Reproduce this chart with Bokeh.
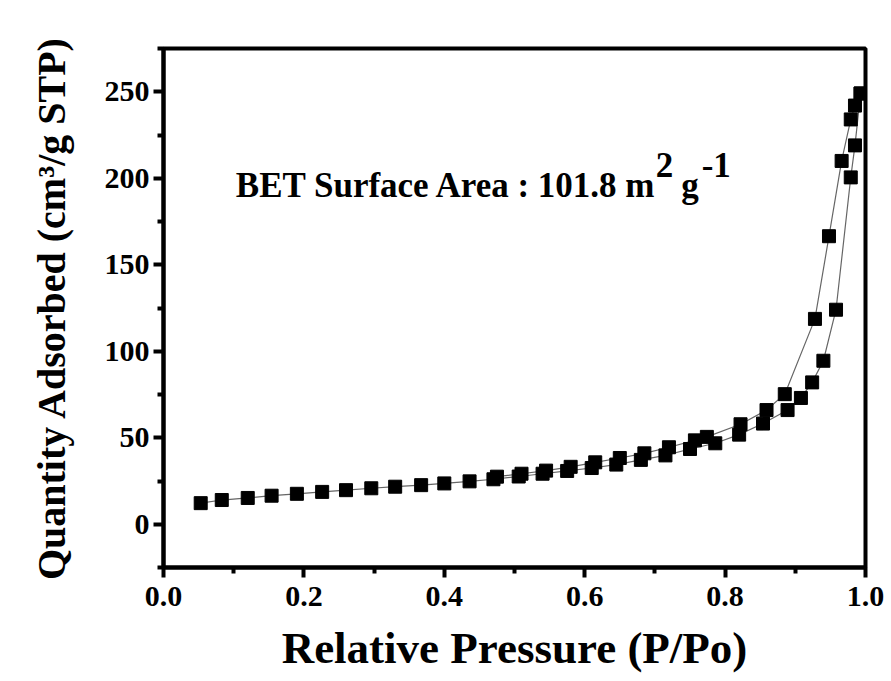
from bokeh.plotting import figure
from bokeh.models import Label, FixedTicker, Range1d
from bokeh.embed import file_html
from bokeh.resources import INLINE

# Adsorption branch (Relative pressure P/Po, quantity adsorbed cm3/g STP)
ads_x = [0.053, 0.083, 0.12, 0.154, 0.19, 0.226, 0.26, 0.296, 0.33, 0.367, 0.40, 0.436,
         0.47, 0.506, 0.54, 0.575, 0.61, 0.645, 0.68, 0.715, 0.75, 0.786, 0.82, 0.854,
         0.889, 0.908, 0.924, 0.940, 0.958, 0.979, 0.985, 0.993]
ads_y = [12.2, 14.0, 15.2, 16.5, 17.6, 18.7, 19.7, 20.8, 21.7, 22.6, 23.6, 24.8,
         26.0, 27.6, 29.2, 30.8, 32.5, 34.5, 37.2, 39.8, 43.5, 46.8, 51.8, 58.2,
         66.0, 73.0, 82.0, 94.5, 124.0, 200.5, 219.0, 249.0]

# Desorption branch
des_x = [0.993, 0.985, 0.979, 0.966, 0.948, 0.928, 0.885, 0.859, 0.822, 0.774, 0.757,
         0.72, 0.685, 0.65, 0.615, 0.58, 0.545, 0.51, 0.475]
des_y = [249.0, 242.0, 234.0, 210.0, 166.5, 118.7, 75.2, 66.0, 57.8, 50.5, 48.5,
         44.5, 41.0, 38.3, 35.8, 33.2, 31.0, 29.2, 27.5]

x_ticks = [0.0, 0.2, 0.4, 0.6, 0.8, 1.0]
y_ticks = [0, 50, 100, 150, 200, 250]
x_minor = [0.1, 0.3, 0.5, 0.7, 0.9]
y_minor = [-25, 25, 75, 125, 175, 225, 275]

annot_parts = ["BET Surface Area : 101.8 m", "2", "g", "-1"]
annot_x = 0.103
annot_y = 196

FONT = "Liberation Serif"

p = figure(width=891, height=681, output_backend="svg", toolbar_location=None,
           x_range=Range1d(0.0, 1.0), y_range=Range1d(-25, 275),
           min_border_left=163, min_border_right=26, min_border_top=48, min_border_bottom=114)

p.grid.visible = False
p.outline_line_color = "black"
p.outline_line_width = 4
p.background_fill_color = "white"
p.border_fill_color = "white"

p.line(ads_x, ads_y, line_color="#666666", line_width=1.2)
p.line(des_x, des_y, line_color="#666666", line_width=1.2)
p.scatter(ads_x, ads_y, marker="square", size=13, fill_color="black", line_color="black")
p.scatter(des_x, des_y, marker="square", size=13, fill_color="black", line_color="black")

p.xaxis.ticker = FixedTicker(ticks=x_ticks, minor_ticks=x_minor)
p.yaxis.ticker = FixedTicker(ticks=y_ticks, minor_ticks=y_minor)
p.xaxis.major_label_overrides = {t: f"{t:.1f}" for t in x_ticks}

for ax in (p.xaxis[0], p.yaxis[0]):
    ax.axis_line_width = 4
    ax.axis_line_color = "black"
    ax.major_tick_line_width = 4
    ax.minor_tick_line_width = 4
    ax.major_tick_in = 0
    ax.major_tick_out = 10
    ax.minor_tick_in = 0
    ax.minor_tick_out = 6
    ax.major_label_text_font = FONT
    ax.major_label_text_font_style = "bold"
    ax.major_label_text_font_size = "30px"
    ax.major_label_text_color = "black"
    ax.axis_label_text_font = FONT
    ax.axis_label_text_font_style = "bold"
    ax.axis_label_text_color = "black"

p.xaxis.axis_label = "Relative Pressure (P/Po)"
p.xaxis.axis_label_text_font_size = "45px"
p.xaxis.major_label_standoff = 9
p.xaxis.axis_label_standoff = 14

p.yaxis.axis_label = "Quantity Adsorbed (cm³/g STP)"
p.yaxis.axis_label_text_font_size = "40px"
p.yaxis.major_label_standoff = 4
p.yaxis.axis_label_standoff = 28

# Annotation: Times-Bold metric widths (em) to place the raised parts
FS = 35
W = {"B": .667, "E": .667, "T": .667, " ": .25, "S": .556, "u": .556, "r": .444,
     "f": .333, "a": .5, "c": .444, "e": .444, "A": .722, ":": .333, "1": .5,
     "0": .5, ".": .25, "8": .5, "m": .833, "g": .5, "2": .5, "-": .333}
def width(s):
    return sum(W.get(ch, .5) for ch in s) * FS

gaps = [0, -2, 8, 3]
raised = [False, True, False, True]
offset = 0.0
for part, up, gap in zip(annot_parts, raised, gaps):
    offset += gap
    p.add_layout(Label(x=annot_x, y=annot_y, x_offset=offset, y_offset=(20 if up else 0),
                       text=part, text_font=FONT, text_font_style="bold",
                       text_font_size=f"{FS}px", text_color="black",
                       text_baseline="alphabetic"))
    offset += width(part)

open("out.html", "w").write(file_html(p, INLINE))
